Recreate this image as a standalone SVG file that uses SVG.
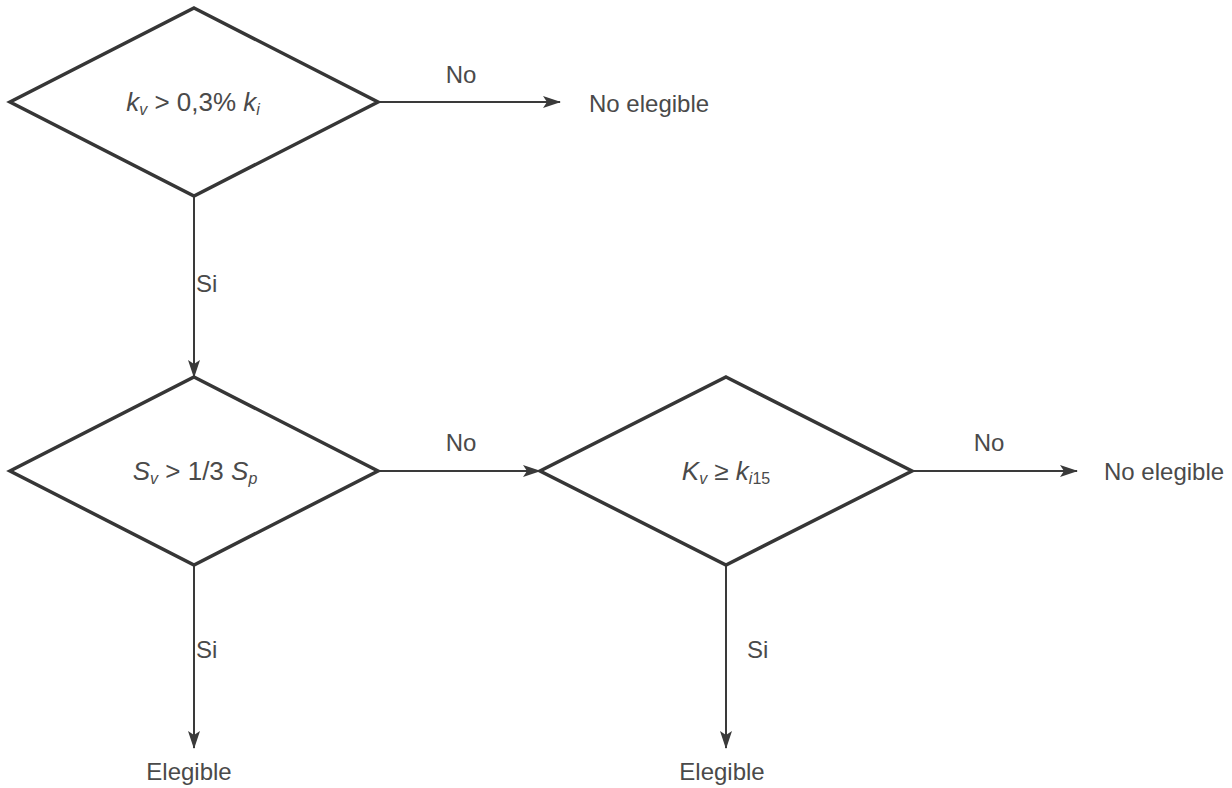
<svg xmlns="http://www.w3.org/2000/svg" width="1232" height="788" viewBox="0 0 1232 788">
  <defs>
    <style>
      .node { fill: #ffffff; stroke: #363636; stroke-width: 3.5; stroke-linejoin: miter; }
      .conn { fill: none; stroke: #3a3a3a; stroke-width: 2; }
      .t { font-family: "Liberation Sans", Arial, sans-serif; font-size: 24px; fill: #4a4a4a; }
      .f { font-family: "Liberation Sans", Arial, sans-serif; font-size: 26px; fill: #4a4a4a; }
      .i { font-style: italic; }
      .sub { font-size: 16px; }
    </style>
    <marker id="arrow" viewBox="0 0 18 12" refX="17" refY="6" markerWidth="18" markerHeight="12" markerUnits="userSpaceOnUse" orient="auto">
      <path d="M0,0 L18,6 L0,12 L4,6 Z" fill="#3a3a3a"/>
    </marker>
  </defs>
  <rect width="1232" height="788" fill="#ffffff"/>

  <g id="connectors">
    <line class="conn" x1="378" y1="102" x2="560" y2="102" marker-end="url(#arrow)"/>
    <line class="conn" x1="194" y1="196" x2="194" y2="377" marker-end="url(#arrow)"/>
    <line class="conn" x1="378" y1="471" x2="540" y2="471" marker-end="url(#arrow)"/>
    <line class="conn" x1="912" y1="471" x2="1077" y2="471" marker-end="url(#arrow)"/>
    <line class="conn" x1="194" y1="565" x2="194" y2="748" marker-end="url(#arrow)"/>
    <line class="conn" x1="726" y1="565" x2="726" y2="748" marker-end="url(#arrow)"/>
    <text class="t" x="461" y="83" text-anchor="middle">No</text>
    <text class="t" x="196" y="292">Si</text>
    <text class="t" x="461" y="451" text-anchor="middle">No</text>
    <text class="t" x="989" y="451" text-anchor="middle">No</text>
    <text class="t" x="196" y="658">Si</text>
    <text class="t" x="747" y="658">Si</text>
  </g>

  <g id="d1">
    <polygon class="node" points="194,8 378,102 194,196 10,102"/>
    <text class="f" x="193" y="111" text-anchor="middle"><tspan class="i">k</tspan><tspan class="i sub" dy="4">v</tspan><tspan dy="-4"> &gt; 0,3% </tspan><tspan class="i">k</tspan><tspan class="i sub" dy="4">i</tspan></text>
  </g>
  <g id="out1">
    <text class="t" x="589" y="112">No elegible</text>
  </g>

  <g id="d2">
    <polygon class="node" points="194,377 378,471 194,565 10,471"/>
    <text class="f" x="195" y="480" text-anchor="middle"><tspan class="i">S</tspan><tspan class="i sub" dy="4">v</tspan><tspan dy="-4"> &gt; 1/3 </tspan><tspan class="i">S</tspan><tspan class="i sub" dy="4">p</tspan></text>
  </g>

  <g id="d3">
    <polygon class="node" points="726,377 912,471 726,565 540,471"/>
    <text class="f" x="726" y="480" text-anchor="middle"><tspan class="i">K</tspan><tspan class="i sub" dy="4">v</tspan><tspan dy="-4"> ≥ </tspan><tspan class="i">k</tspan><tspan class="sub" dy="4"><tspan class="i">i</tspan>15</tspan></text>
  </g>
  <g id="out2">
    <text class="t" x="1104" y="480">No elegible</text>
  </g>

  <g id="out3">
    <text class="t" x="189" y="780" text-anchor="middle">Elegible</text>
  </g>
  <g id="out4">
    <text class="t" x="722" y="780" text-anchor="middle">Elegible</text>
  </g>
</svg>
